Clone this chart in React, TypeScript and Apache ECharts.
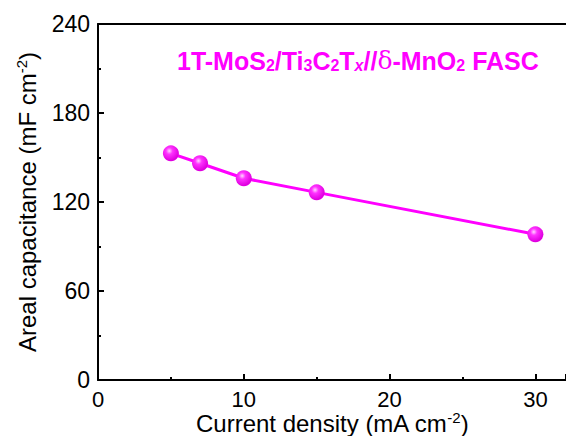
import React, { useEffect, useRef } from "react";
import * as echarts from "echarts";

const currentDensity = [5, 7, 10, 15, 30];
const arealCapacitance = [152.8, 146.1, 136.0, 126.5, 98.2];
const xTicks = [0, 10, 20, 30];
const yTicks = [0, 60, 120, 180, 240];

export default function App() {
  const ref = useRef<HTMLDivElement>(null);
  useEffect(() => {
    const chart = echarts.init(ref.current!, undefined, { renderer: "svg" });
    const font = "Liberation Sans, Arial, sans-serif";
    const sub = { fontSize: 16, fontWeight: "bold", color: "#ff00ff", verticalAlign: "bottom", padding: [10, 0, 0, 0], fontFamily: font };
    const supRich = { sup: { fontSize: 15, verticalAlign: "top", padding: [0, 0, 12, 0], color: "#000", fontFamily: font } };
    chart.setOption({
      animation: false,
      backgroundColor: "#ffffff",
      grid: { left: 98, right: 0, top: 24, bottom: 56, show: false, outerBoundsMode: "none" },
      xAxis: [
        {
          type: "value",
          min: 0,
          max: 32.1,
          interval: 10,
          name: "Current density (mA cm{sup|-2})",
          nameLocation: "middle",
          nameGap: 30,
          nameMoveOverlap: false,
          nameTextStyle: { fontSize: 24, color: "#000", fontFamily: font, rich: supRich },
          axisLine: { show: true, lineStyle: { color: "#000", width: 2 } },
          axisTick: { show: true, inside: true, length: 6, lineStyle: { color: "#000", width: 2 } },
          minorTick: { show: true, splitNumber: 2, length: 3, lineStyle: { color: "#000", width: 2 } },
          axisLabel: {
            fontSize: 22, lineHeight: 20, color: "#000", fontFamily: font, margin: 9,
            showMaxLabel: false,
            formatter: (v: number) => (xTicks.includes(v) ? String(v) : ""),
          },
          splitLine: { show: false },
        },
        {
          type: "value",
          position: "top",
          min: 0,
          max: 32.1,
          axisLine: { show: true, lineStyle: { color: "#000", width: 2 } },
          axisTick: { show: false },
          axisLabel: { show: false },
          splitLine: { show: false },
        },
      ],
      yAxis: {
        type: "value",
        min: 0,
        max: 240,
        interval: 60,
        name: "Areal capacitance (mF cm{sup|-2})",
        nameLocation: "middle",
        nameGap: 57,
        nameMoveOverlap: false,
        nameTextStyle: { fontSize: 24, color: "#000", fontFamily: font, rich: supRich },
        axisLine: { show: true, lineStyle: { color: "#000", width: 2 } },
        axisTick: { show: true, inside: true, length: 6, lineStyle: { color: "#000", width: 2 } },
        minorTick: { show: true, splitNumber: 2, length: 3, lineStyle: { color: "#000", width: 2 } },
        axisLabel: {
          fontSize: 23, color: "#000", fontFamily: font, margin: 8,
          formatter: (v: number) => (yTicks.includes(v) ? String(v) : ""),
        },
        splitLine: { show: false },
      },
      graphic: [
        {
          type: "text",
          left: 177,
          top: 48,
          style: {
            text: "1T-MoS{s|2}/Ti{s|3}C{s|2}T{si|x}//{d|δ}-MnO{s|2} FASC",
            fontSize: 25,
            fontWeight: "bold",
            fill: "#ff00ff",
            fontFamily: font,
            rich: {
              s: sub,
              si: { ...sub, fontStyle: "italic" },
              d: { fontSize: 25, fontWeight: "normal", color: "#ff00ff", fontFamily: "DejaVu Serif, serif" },
            },
          },
        },
      ],
      series: [
        {
          type: "line",
          data: currentDensity.map((x, i) => [x, arealCapacitance[i]]),
          symbol: "circle",
          symbolSize: 16,
          lineStyle: { color: "#ff00ff", width: 3 },
          itemStyle: {
            color: new echarts.graphic.RadialGradient(0.4, 0.35, 0.6, [
              { offset: 0, color: "#ffd6ff" },
              { offset: 0.35, color: "#ff33ff" },
              { offset: 1, color: "#e000e0" },
            ]),
            borderWidth: 0,
          },
        },
      ],
    });
    return () => chart.dispose();
  }, []);
  return <div ref={ref} style={{ width: 566, height: 436, position: "absolute", left: 0, top: 0 }} />;
}
